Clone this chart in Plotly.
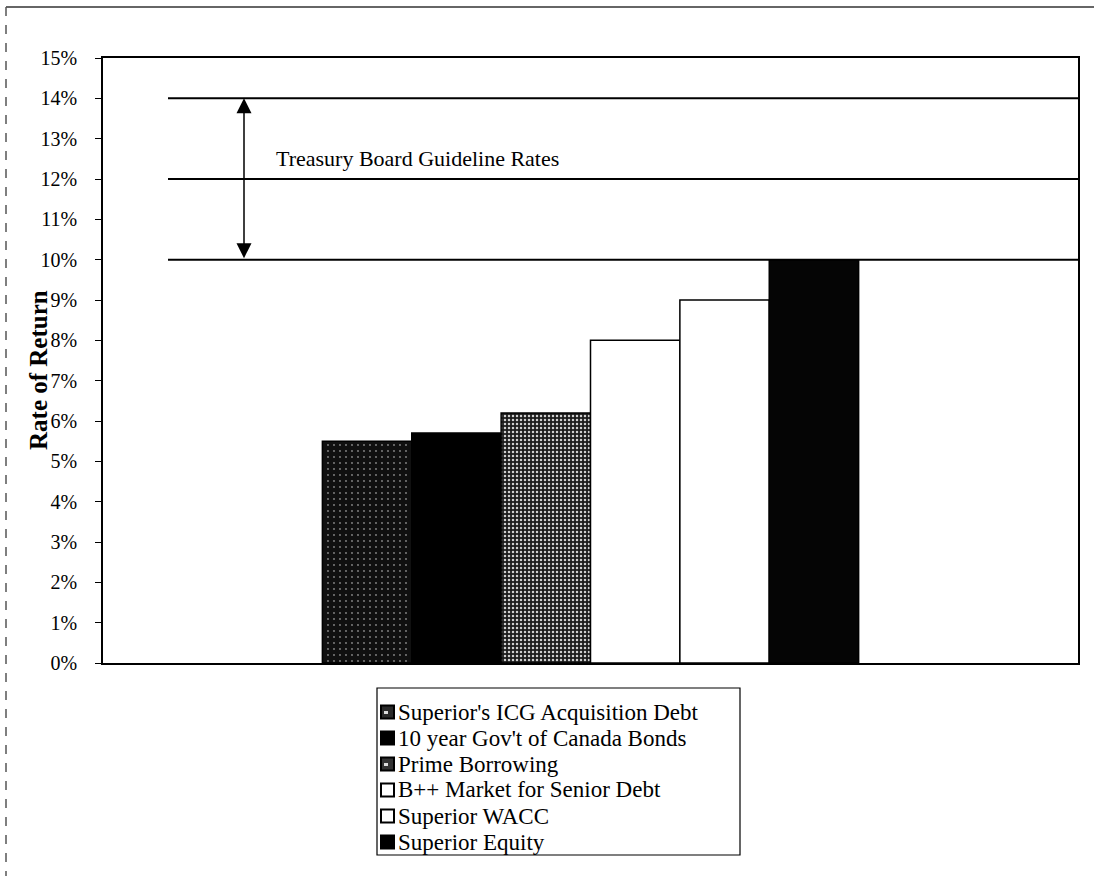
import plotly.graph_objects as go

# Rates of return compared against the Treasury Board guideline band
series_names = [
    "Superior's ICG Acquisition Debt",
    "10 year Gov't of Canada Bonds",
    "Prime Borrowing",
    "B++ Market for Senior Debt",
    "Superior WACC",
    "Superior Equity",
]
rates = [5.5, 5.7, 6.2, 8.0, 9.0, 10.0]
guideline_rates = [10, 12, 14]
guideline_label = "Treasury Board Guideline Rates"
y_title = "Rate of Return"
y_ticks = list(range(0, 16))
y_tick_labels = [f"{v}%" for v in y_ticks]
category = ["Rates"]

FONT = "Times New Roman, Liberation Serif, serif"

# plot area in pixels (used to place paper-referenced decorations)
W, H = 1094, 876
L, R, T, B = 103, 16, 58, 213
PW, PH = W - L - R, H - T - B


def px_x(x):
    return (x - L) / PW


def px_y(y):
    return (H - B - y) / PH


# fill style per series: (background, speckle colour, speckle size, solidity)
fills = [
    ("#101010", "#8a8a8a", 6, 0.07),
    ("#000000", None, None, None),
    ("#1c1c1c", "#d0d0d0", 4, 0.30),
    ("#ffffff", None, None, None),
    ("#ffffff", None, None, None),
    ("#050505", None, None, None),
]
# legend key colours
key_colors = ["#2a2a2a", "#000000", "#333333", "#ffffff", "#ffffff", "#000000"]

fig = go.Figure()
for name, rate, (bg, fg, size, sol) in zip(series_names, rates, fills):
    marker = dict(color=bg, line=dict(color="black", width=1.5))
    if fg is not None:
        marker["pattern"] = dict(shape=".", bgcolor=bg, fgcolor=fg,
                                 size=size, solidity=sol, fillmode="replace")
    fig.add_trace(go.Bar(x=category, y=[rate], name=name, marker=marker,
                         showlegend=False))

# guideline reference lines
for g in guideline_rates:
    fig.add_shape(type="line", xref="paper", yref="y", x0=px_x(168), x1=1,
                  y0=g, y1=g, line=dict(color="black", width=2))

# double-headed arrow spanning the guideline band
fig.add_annotation(xref="paper", yref="y", x=px_x(244), y=max(guideline_rates),
                   axref="pixel", ayref="y", ax=0, ay=min(guideline_rates),
                   showarrow=True, arrowhead=2, startarrowhead=2,
                   arrowside="end+start", arrowsize=2, startarrowsize=2,
                   arrowwidth=1.5, arrowcolor="black", text="")
fig.add_annotation(xref="paper", yref="y", x=px_x(274), y=12.5,
                   xanchor="left", yanchor="middle", showarrow=False,
                   text=guideline_label,
                   font=dict(family=FONT, size=22, color="black"))

# vertical axis title
fig.add_annotation(xref="paper", yref="paper", x=px_x(38), y=px_y(370),
                   xanchor="center", yanchor="middle", showarrow=False,
                   textangle=-90, text=f"<b>{y_title}</b>",
                   font=dict(family=FONT, size=25, color="black"))

# legend box with keys and labels
fig.add_shape(type="rect", xref="paper", yref="paper",
              x0=px_x(377), x1=px_x(740), y0=px_y(688), y1=px_y(855),
              line=dict(color="black", width=1.2), fillcolor="white")
row0, row_step = 712, 26
for i, (name, kc) in enumerate(zip(series_names, key_colors)):
    cy = row0 + i * row_step
    fig.add_shape(type="rect", xref="paper", yref="paper",
                  x0=px_x(381), x1=px_x(394), y0=px_y(cy + 6.5), y1=px_y(cy - 6.5),
                  line=dict(color="black", width=2), fillcolor=kc)
    if i in (0, 2):
        fig.add_shape(type="rect", xref="paper", yref="paper",
                      x0=px_x(384), x1=px_x(388), y0=px_y(cy + 2), y1=px_y(cy - 1),
                      line=dict(width=0), fillcolor="#dddddd")
    fig.add_annotation(xref="paper", yref="paper", x=px_x(397), y=px_y(cy),
                       xanchor="left", yanchor="middle", showarrow=False,
                       text=name, borderpad=0,
                       font=dict(family=FONT, size=23, color="black"))

# page frame (top and left edges)
fig.add_shape(type="line", xref="paper", yref="paper",
              x0=px_x(6), x1=px_x(1094), y0=px_y(7), y1=px_y(7),
              line=dict(color="#333333", width=1.5))
fig.add_shape(type="line", xref="paper", yref="paper",
              x0=px_x(6), x1=px_x(6), y0=px_y(7), y1=px_y(876),
              line=dict(color="#555555", width=1.5, dash="dash"))

fig.update_layout(
    width=W, height=H,
    margin=dict(l=L, r=R, t=T, b=B),
    paper_bgcolor="white", plot_bgcolor="white",
    barmode="group", bargap=0.45, bargroupgap=0,
    font=dict(family=FONT, color="black"),
    showlegend=False,
)
fig.update_xaxes(showticklabels=False, ticks="", showgrid=False,
                 showline=True, linecolor="black", linewidth=1.5,
                 mirror=True, range=[-0.5, 0.5])
fig.update_yaxes(range=[0, 15], tickmode="array", tickvals=y_ticks,
                 ticktext=y_tick_labels,
                 ticks="outside", ticklen=6, tickcolor="black",
                 ticklabelstandoff=14,
                 showgrid=False, zeroline=False,
                 showline=True, linecolor="black", linewidth=1.5, mirror=True,
                 tickfont=dict(family=FONT, size=20, color="black"))

fig.write_html("out.html")
